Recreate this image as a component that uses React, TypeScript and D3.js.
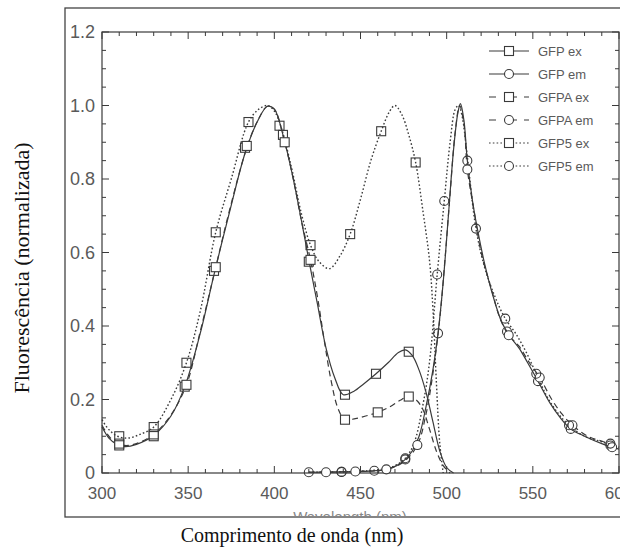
import React, { useEffect, useRef } from "react";
import * as d3 from "d3";

type Pt = [number, number];

// excitation / emission spectra, [wavelength nm, normalized fluorescence]
const gfpEx: Pt[] = [
  [300, 0.125], [304, 0.095], [308, 0.08], [313, 0.072], [320, 0.078], [330, 0.102],
  [340, 0.155], [348, 0.235], [357, 0.38], [365, 0.54], [374, 0.71], [383, 0.87],
  [390, 0.955], [396, 0.998], [400, 0.99], [405, 0.92], [411, 0.8], [416, 0.68],
  [420, 0.58], [425, 0.46], [430, 0.34], [435, 0.26], [440, 0.213], [446, 0.222],
  [452, 0.243], [459, 0.27], [466, 0.3], [472, 0.328], [476, 0.335], [480, 0.32],
  [484, 0.28], [488, 0.22], [492, 0.14], [496, 0.06], [500, 0.015], [504, 0],
];
const gfpAEx: Pt[] = [
  [300, 0.13], [304, 0.1], [308, 0.083], [313, 0.075], [320, 0.08], [330, 0.105],
  [340, 0.158], [349, 0.24], [357, 0.385], [366, 0.56], [374, 0.715], [384, 0.885],
  [390, 0.955], [396, 0.998], [400, 0.99], [406, 0.9], [411, 0.8], [416, 0.68],
  [421, 0.58], [425, 0.48], [429, 0.36], [433, 0.25], [437, 0.175], [441, 0.145],
  [447, 0.148], [453, 0.155], [460, 0.165], [467, 0.18], [473, 0.198], [478, 0.208],
  [482, 0.2], [486, 0.175], [490, 0.12], [494, 0.06], [498, 0.02], [502, 0],
];
const gfp5Ex: Pt[] = [
  [300, 0.145], [304, 0.118], [309, 0.1], [315, 0.095], [322, 0.105], [330, 0.125],
  [340, 0.2], [349, 0.3], [357, 0.44], [366, 0.655], [375, 0.8], [385, 0.955],
  [391, 0.99], [396, 1.0], [400, 0.985], [404, 0.94], [410, 0.83], [416, 0.7],
  [421, 0.62], [426, 0.575], [432, 0.556], [438, 0.59], [444, 0.65], [450, 0.745],
  [456, 0.85], [462, 0.93], [467, 0.985], [470, 1.0], [474, 0.975], [478, 0.92],
  [482, 0.845], [486, 0.72], [490, 0.58], [492, 0.45], [494, 0.25], [496, 0.08], [498, 0],
];
const gfpEm: Pt[] = [
  [420, 0.002], [440, 0.003], [455, 0.005], [465, 0.01], [471, 0.02], [476, 0.037],
  [480, 0.06], [484, 0.1], [488, 0.18], [492, 0.28], [495, 0.38], [498, 0.52],
  [501, 0.7], [504, 0.88], [506.5, 0.98], [508, 1.005], [510, 0.96], [512, 0.85],
  [515, 0.74], [518, 0.66], [522, 0.57], [527, 0.48], [532, 0.41], [537, 0.37],
  [542, 0.34], [547, 0.3], [553, 0.25], [560, 0.19], [566, 0.15], [572, 0.12],
  [580, 0.1], [590, 0.08], [600, 0.065],
];
const gfpAEm: Pt[] = [
  [420, 0.002], [445, 0.004], [465, 0.01], [475, 0.03], [483, 0.076], [488, 0.16],
  [492, 0.27], [496, 0.42], [499, 0.58], [502, 0.76], [505, 0.93], [507.5, 1.0],
  [510, 0.95], [512, 0.826], [516, 0.71], [520, 0.6], [526, 0.5], [531, 0.42],
  [536, 0.375], [542, 0.345], [548, 0.3], [554, 0.26], [561, 0.2], [567, 0.16],
  [573, 0.13], [582, 0.1], [591, 0.085], [600, 0.07],
];
const gfp5Em: Pt[] = [
  [420, 0.002], [445, 0.004], [462, 0.01], [470, 0.02], [476, 0.04], [481, 0.08],
  [486, 0.18], [490, 0.3], [494.5, 0.54], [498.6, 0.74], [502, 0.9], [505, 0.99],
  [507, 1.0], [509, 0.97], [512, 0.86], [517, 0.665], [522, 0.56], [528, 0.48],
  [534, 0.42], [540, 0.38], [546, 0.33], [552, 0.27], [558, 0.21], [565, 0.16],
  [571, 0.13], [580, 0.1], [590, 0.085], [600, 0.07],
];

// symbol positions
const gfpExMarks: Pt[] = [
  [310, 0.075], [330, 0.1], [348, 0.235], [365, 0.55], [383, 0.885], [405, 0.92],
  [420, 0.575], [441, 0.213], [459, 0.27], [478, 0.33],
];
const gfpAExMarks: Pt[] = [
  [310, 0.08], [330, 0.105], [349, 0.24], [366, 0.56], [384, 0.89], [406, 0.9],
  [421, 0.58], [441, 0.145], [460, 0.165], [478, 0.208],
];
const gfp5ExMarks: Pt[] = [
  [310, 0.1], [330, 0.125], [349, 0.3], [366, 0.655], [385, 0.955], [403, 0.945],
  [421, 0.62], [444, 0.65], [462, 0.93], [482, 0.845],
];
const gfpEmMarks: Pt[] = [
  [420, 0.002], [439, 0.003], [458, 0.006], [476, 0.037], [495, 0.38], [512, 0.85],
  [535, 0.385], [553, 0.25], [572, 0.12], [595, 0.075],
];
const gfpAEmMarks: Pt[] = [
  [430, 0.002], [447, 0.004], [465, 0.01], [483, 0.076], [512, 0.826], [536, 0.375],
  [554, 0.26], [573, 0.13], [596, 0.07],
];
const gfp5EmMarks: Pt[] = [
  [439, 0.003], [476, 0.04], [494.5, 0.54], [498.6, 0.74], [517, 0.665], [534, 0.42],
  [552, 0.27], [571, 0.13], [595, 0.08],
];

const seriesNames = ["GFP ex", "GFP em", "GFPA ex", "GFPA em", "GFP5 ex", "GFP5 em"];
const xTicks = [300, 350, 400, 450, 500, 550, 600];
const yTicks = [0, 0.2, 0.4, 0.6, 0.8, 1.0, 1.2];

const INK = "#3a3a3a";
const GREY = "#5a5a5a";

const App = () => {
  const svgRef = useRef<SVGSVGElement>(null);

  useEffect(() => {
    const svg = d3.select(svgRef.current);
    svg.selectAll("*").remove();

    const x = d3.scaleLinear().domain([300, 600]).range([102, 619]);
    const y = d3.scaleLinear().domain([0, 1.2]).range([473, 32]);

    // outer frame of the scanned figure
    svg.append("rect")
      .attr("x", 65).attr("y", 8).attr("width", 600).attr("height", 509)
      .attr("fill", "none").attr("stroke", "#444").attr("stroke-width", 1.3);

    // original english axis title, mostly hidden by the frame
    svg.append("clipPath").attr("id", "cutTitle")
      .append("rect").attr("x", 0).attr("y", 0).attr("width", 620).attr("height", 516);
    svg.append("text")
      .attr("x", 350).attr("y", 522)
      .attr("text-anchor", "middle")
      .attr("font-family", "Liberation Sans, Arial, sans-serif")
      .attr("font-size", 15).attr("fill", "#888")
      .attr("clip-path", "url(#cutTitle)")
      .text("Wavelength (nm)");

    // plot box
    svg.append("rect")
      .attr("x", x(300)).attr("y", y(1.2))
      .attr("width", x(600) - x(300)).attr("height", y(0) - y(1.2))
      .attr("fill", "none").attr("stroke", INK).attr("stroke-width", 1.2);

    const tk = svg.append("g").attr("stroke", INK).attr("stroke-width", 1);
    d3.range(300, 601, 10).forEach((v) => {
      const len = v % 50 === 0 ? 7 : 4;
      tk.append("line").attr("x1", x(v)).attr("x2", x(v)).attr("y1", y(0)).attr("y2", y(0) - len);
      tk.append("line").attr("x1", x(v)).attr("x2", x(v)).attr("y1", y(1.2)).attr("y2", y(1.2) + len);
    });
    d3.range(0, 25).forEach((i) => {
      const v = i * 0.05;
      const len = i % 4 === 0 ? 7 : 4;
      tk.append("line").attr("x1", x(300)).attr("x2", x(300) + len).attr("y1", y(v)).attr("y2", y(v));
      tk.append("line").attr("x1", x(600)).attr("x2", x(600) - len).attr("y1", y(v)).attr("y2", y(v));
    });

    const tickFont = "Liberation Sans, Arial, sans-serif";
    xTicks.forEach((v) => {
      svg.append("text")
        .attr("x", x(v)).attr("y", 499)
        .attr("text-anchor", "middle")
        .attr("font-family", tickFont).attr("font-size", 17).attr("fill", GREY)
        .text(String(v));
    });
    yTicks.forEach((v) => {
      svg.append("text")
        .attr("x", 95).attr("y", y(v) + 6)
        .attr("text-anchor", "end")
        .attr("font-family", tickFont).attr("font-size", 18).attr("fill", GREY)
        .text(v === 0 ? "0" : v.toFixed(1));
    });

    // axis titles
    svg.append("text")
      .attr("transform", "translate(29,268) rotate(-90)")
      .attr("text-anchor", "middle")
      .attr("font-family", "Liberation Serif, Times New Roman, serif")
      .attr("font-size", 22).attr("fill", "#111")
      .text("Fluorescência (normalizada)");
    svg.append("text")
      .attr("x", 292).attr("y", 542)
      .attr("text-anchor", "middle")
      .attr("font-family", "Liberation Serif, Times New Roman, serif")
      .attr("font-size", 20).attr("fill", "#111")
      .text("Comprimento de onda (nm)");

    const line = d3.line<Pt>()
      .x((d) => x(d[0]))
      .y((d) => y(d[1]))
      .curve(d3.curveCatmullRom.alpha(0.5));

    const styles = [
      { data: gfpEx, marks: gfpExMarks, dash: null, shape: "square", fill: "none" },
      { data: gfpEm, marks: gfpEmMarks, dash: null, shape: "circle", fill: "none" },
      { data: gfpAEx, marks: gfpAExMarks, dash: "6,4", shape: "square", fill: "#fff" },
      { data: gfpAEm, marks: gfpAEmMarks, dash: "6,4", shape: "circle", fill: "#fff" },
      { data: gfp5Ex, marks: gfp5ExMarks, dash: "1.6,2.2", shape: "square", fill: "none" },
      { data: gfp5Em, marks: gfp5EmMarks, dash: "1.6,2.2", shape: "circle", fill: "none" },
    ];

    const drawMark = (g: any, cx: number, cy: number, shape: string, fill: string) => {
      if (shape === "square") {
        g.append("rect")
          .attr("x", cx - 4.5).attr("y", cy - 4.5).attr("width", 9).attr("height", 9)
          .attr("fill", fill).attr("stroke", INK).attr("stroke-width", 1.1);
      } else {
        g.append("circle")
          .attr("cx", cx).attr("cy", cy).attr("r", 4.5)
          .attr("fill", fill).attr("stroke", INK).attr("stroke-width", 1.1);
      }
    };

    styles.forEach((s) => {
      svg.append("path")
        .attr("d", line(s.data))
        .attr("fill", "none")
        .attr("stroke", INK)
        .attr("stroke-width", s.dash === "1.6,2.2" ? 1.4 : 1.2)
        .attr("stroke-dasharray", s.dash);
    });
    styles.forEach((s) => {
      const g = svg.append("g");
      s.marks.forEach((m) => drawMark(g, x(m[0]), y(m[1]), s.shape, s.fill));
    });

    // legend
    const lg = svg.append("g");
    seriesNames.forEach((name, i) => {
      const s = styles[i];
      const ly = 51 + i * 23;
      lg.append("line")
        .attr("x1", 489).attr("x2", 529).attr("y1", ly).attr("y2", ly)
        .attr("stroke", INK).attr("stroke-width", 1.1)
        .attr("stroke-dasharray", s.dash === "6,4" ? "7,14,7" : s.dash);
      drawMark(lg, 509, ly, s.shape, s.fill === "none" ? "#fff" : s.fill);
      lg.append("text")
        .attr("x", 538).attr("y", ly + 4.5)
        .attr("font-family", tickFont).attr("font-size", 13).attr("fill", GREY)
        .text(name);
    });
  }, []);

  return (
    <svg
      ref={svgRef}
      width={620}
      height={548}
      style={{ position: "absolute", left: 0, top: 0, background: "#fff" }}
    />
  );
};

export default App;
